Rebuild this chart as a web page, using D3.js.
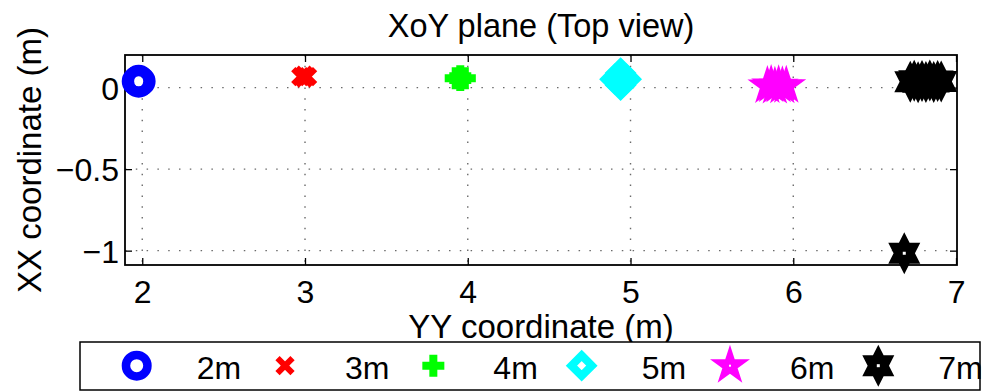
<!DOCTYPE html>
<html>
<head>
<meta charset="utf-8">
<script src="https://cdn.jsdelivr.net/npm/d3@7"></script>
<style>
  html, body { margin: 0; padding: 0; background: #fff; }
  svg { display: block; font-family: "Liberation Sans", Arial, Helvetica, sans-serif; }
</style>
</head>
<body>
<svg id="chart" width="982" height="391"></svg>
<script>
// Axis ticks
const yyTicks = [2, 3, 4, 5, 6, 7];
const xxTicks = [0, -0.5, -1];

// Series labels, colours and marker symbols
const seriesNames = ["2m", "3m", "4m", "5m", "6m", "7m"];
const seriesColors = ["#0000ff", "#ff0000", "#00ff00", "#00ffff", "#ff00ff", "#000000"];
const seriesSymbols = ["circle", "cross", "plus", "diamond", "pentagram", "hexagram"];

// Estimated positions for each distance: YY (horizontal) and XX (vertical), metres
const yy2m = [1.966, 1.990, 1.978, 1.978];
const xx2m = [0.039, 0.039, 0.048, 0.030];
const yy3m = [2.974, 3.016, 2.995, 2.995];
const xx3m = [0.067, 0.067, 0.076, 0.058];
const yy4m = [3.926, 3.982, 3.954, 3.954];
const xx4m = [0.058, 0.058, 0.070, 0.046];
const yy5m = [4.939, 4.905, 4.973, 4.939, 4.939];
const xx5m = [0.052, 0.052, 0.052, 0.089, 0.015];
const yy6m = [5.841, 5.864, 5.887, 5.910, 5.933, 5.957];
const xx6m = [0.010, 0.016, 0.006, 0.014, 0.008, 0.012];
const yy7m = [6.719, 6.743, 6.767, 6.791, 6.815, 6.839, 6.863, 6.887, 6.909, 6.682];
const xx7m = [0.036, 0.042, 0.033, 0.040, 0.035, 0.043, 0.034, 0.041, 0.037, -1.016];

const yyAll = [yy2m, yy3m, yy4m, yy5m, yy6m, yy7m];
const xxAll = [xx2m, xx3m, xx4m, xx5m, xx6m, xx7m];
const series = seriesNames.map((name, i) => ({
  name, color: seriesColors[i], symbol: seriesSymbols[i],
  points: yyAll[i].map((v, j) => ({ yy: v, xx: xxAll[i][j] }))
}));

const svg = d3.select("#chart");
const plot = { left: 125, right: 957, top: 55, bottom: 265 };

const x = d3.scaleLinear().domain([1.894, 7.006]).range([plot.left, plot.right]);
const y = d3.scaleLinear().domain([0.2, -1.088]).range([plot.top, plot.bottom]);

// Marker shapes, centred on the origin
function starPath(R, r, n, sx) {
  const pts = [];
  for (let k = 0; k < 2 * n; k++) {
    const rad = k % 2 === 0 ? R : r;
    const a = -Math.PI / 2 + k * Math.PI / n;
    pts.push([rad * Math.cos(a) * sx, rad * Math.sin(a)]);
  }
  return "M" + pts.map(p => p[0].toFixed(2) + "," + p[1].toFixed(2)).join("L") + "Z";
}

function drawMarker(g, symbol, color, dot) {
  switch (symbol) {
    case "circle":
      g.append("circle").attr("r", 10.75).attr("fill", "none")
        .attr("stroke", color).attr("stroke-width", 8.5);
      break;
    case "cross":
      g.append("path").attr("d", "M-7.5,-7.5L7.5,7.5M-7.5,7.5L7.5,-7.5")
        .attr("fill", "none").attr("stroke", color).attr("stroke-width", 6);
      break;
    case "plus":
      g.append("path").attr("d", "M-11,0L11,0M0,-11L0,11")
        .attr("fill", "none").attr("stroke", color).attr("stroke-width", 8);
      break;
    case "diamond":
      g.append("path").attr("d", "M0,-10.25L10.25,0L0,10.25L-10.25,0Z")
        .attr("fill", "none").attr("stroke", color).attr("stroke-width", 8)
        .attr("stroke-linejoin", "miter");
      break;
    case "pentagram":
      g.append("path").attr("d", starPath(21, 21 * 0.382, 5, 1)).attr("fill", color);
      if (dot) g.append("rect").attr("x", -1).attr("y", -1).attr("width", 2).attr("height", 2).attr("fill", "#fff");
      break;
    case "hexagram":
      g.append("path").attr("d", starPath(21, 21 / Math.sqrt(3), 6, 0.88)).attr("fill", color);
      if (dot) g.append("rect").attr("x", -1.5).attr("y", -1.5).attr("width", 3).attr("height", 3).attr("fill", "#fff");
      break;
  }
}

// Grid (dotted)
const grid = svg.append("g").attr("stroke", "#6a6a6a").attr("stroke-width", 1.4)
  .attr("stroke-dasharray", "1.5 9.3");
grid.selectAll("line.v").data(yyTicks.filter(t => x(t) < plot.right - 1)).join("line")
  .attr("class", "v").attr("x1", d => x(d)).attr("x2", d => x(d))
  .attr("y1", plot.top).attr("y2", plot.bottom);
grid.selectAll("line.h").data(xxTicks).join("line")
  .attr("class", "h").attr("y1", d => y(d)).attr("y2", d => y(d))
  .attr("x1", plot.left).attr("x2", plot.right);

// Axes with inward ticks on all four sides
const tickLen = 7;
const axB = svg.append("g").attr("transform", `translate(0,${plot.bottom})`)
  .call(d3.axisBottom(x).tickValues(yyTicks).tickSizeInner(-tickLen).tickSizeOuter(0).tickPadding(16).tickFormat(d3.format("d")));
const axT = svg.append("g").attr("transform", `translate(0,${plot.top})`)
  .call(d3.axisTop(x).tickValues(yyTicks).tickSizeInner(-tickLen).tickSizeOuter(0).tickFormat(""));
const axL = svg.append("g").attr("transform", `translate(${plot.left},0)`)
  .call(d3.axisLeft(y).tickValues(xxTicks).tickSizeInner(-tickLen).tickSizeOuter(0).tickPadding(6).tickFormat(d3.format("")));
const axR = svg.append("g").attr("transform", `translate(${plot.right},0)`)
  .call(d3.axisRight(y).tickValues(xxTicks).tickSizeInner(-tickLen).tickSizeOuter(0).tickFormat(""));

[axB, axT, axL, axR].forEach(a => {
  a.select(".domain").remove();
  a.selectAll(".tick line").attr("stroke", "#000").attr("stroke-width", 1.3);
  a.selectAll("text").attr("fill", "#000").style("font-size", "32px")
    .style("font-family", '"Liberation Sans", Arial, Helvetica, sans-serif');
});
axB.selectAll(".tick text").attr("dy", null).attr("y", 38);
axL.selectAll(".tick text").attr("x", -6).attr("dy", "0.36em");

// Axes box
svg.append("rect").attr("x", plot.left).attr("y", plot.top)
  .attr("width", plot.right - plot.left).attr("height", plot.bottom - plot.top)
  .attr("fill", "none").attr("stroke", "#000").attr("stroke-width", 1.8);

// Data markers
series.forEach(s => {
  const g = svg.append("g");
  s.points.forEach((p, j) => {
    const m = g.append("g").attr("transform", `translate(${x(p.yy)},${y(p.xx)})`);
    // the isolated 7m reading shows the marker's centre hole
    drawMarker(m, s.symbol, s.color, s.symbol === "hexagram" && p.xx < -0.5);
  });
});

// Titles
svg.append("text").attr("x", (plot.left + plot.right) / 2).attr("y", 36.5)
  .attr("text-anchor", "middle").style("font-size", "32.5px").text("XoY plane (Top view)");
svg.append("text").attr("x", (plot.left + plot.right) / 2).attr("y", 337.5)
  .attr("text-anchor", "middle").style("font-size", "33px").text("YY coordinate (m)");
svg.append("text").attr("transform", `translate(40.5,${(plot.top + plot.bottom) / 2}) rotate(-90)`)
  .attr("text-anchor", "middle").style("font-size", "33px").text("XX coordinate (m)");

// Legend
const legend = svg.append("g");
legend.append("rect").attr("x", 80).attr("y", 342).attr("width", 900).attr("height", 48)
  .attr("fill", "#fff").attr("stroke", "#000").attr("stroke-width", 1.5);
const legendX = d3.scalePoint().domain(seriesNames).range([136.7, 878.3]);
series.forEach(s => {
  const m = legend.append("g").attr("transform", `translate(${legendX(s.name)},365.7)`);
  drawMarker(m, s.symbol, s.color, true);
  legend.append("text").attr("x", legendX(s.name) + 60).attr("y", 379)
    .style("font-size", "32px").text(s.name);
});
</script>
</body>
</html>
